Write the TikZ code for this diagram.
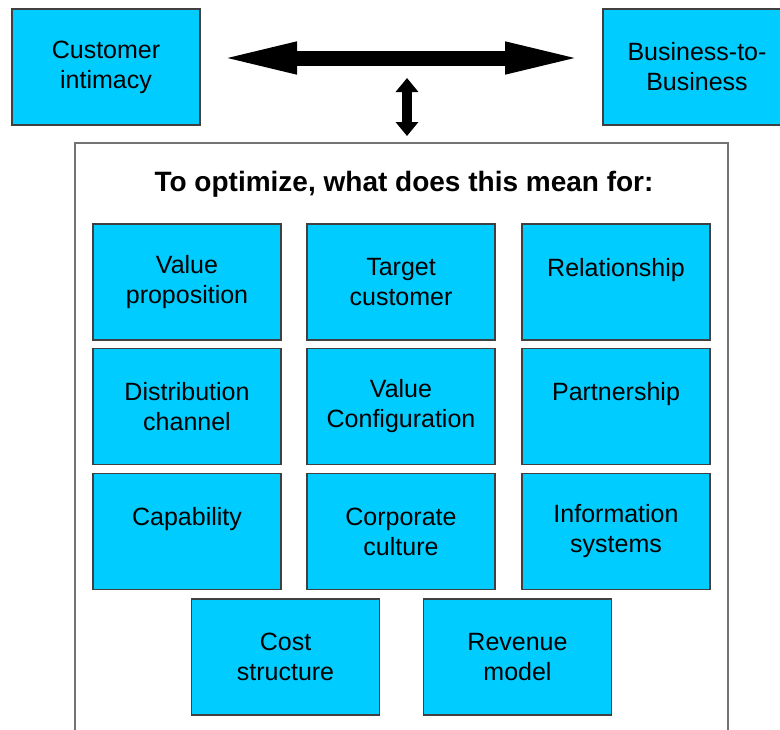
\documentclass[tikz,border=0pt]{standalone}
\usepackage{fontspec}
\setmainfont{Liberation Sans}
\usetikzlibrary{arrows.meta}
\definecolor{boxcyan}{HTML}{00CCFF}
\tikzset{
  cell/.style={draw=black!75, line width=0.6pt, fill=boxcyan,
    minimum width=94pt, minimum height=58pt, inner sep=0pt,
    align=center, font=\fontsize{12.5}{15}\selectfont},
  bigarrow/.style={line width=7.5pt,
    {Triangle[length=41pt,width=14pt]}-{Triangle[length=41pt,width=14pt]}},
  smallarrow/.style={line width=5pt,
    {Triangle[length=7pt,width=11pt]}-{Triangle[length=7pt,width=11pt]}}
}
\begin{document}
\begin{tikzpicture}[x=0.5pt,y=-0.5pt]
\useasboundingbox (0,0) rectangle (780,729);
% top row
\node[cell] (ci) at (106,67) {Customer\\intimacy};
\node[cell] (bb) at (697,67) {Business-to-\\Business};
\coordinate (hl) at (215,58);
\coordinate (hr) at (587,58);
\draw[bigarrow] (hl) -- (hr);
\coordinate (vt) at (407,78);
\coordinate (vb) at (407,136);
\draw[smallarrow] (vt) -- (vb);
% frame
\draw[gray!90!black, line width=0.8pt] (75,740) -- (75,143) -- (728,143) -- (728,740);
\node[font=\fontsize{14}{17}\selectfont\bfseries] (title) at (404,184) {To optimize, what does this mean for:};
% grid
\node[cell] (vp) at (187,282) {Value\\proposition};
\node[cell] (tc) at (401,282) {Target\\customer};
\node[cell] (rel) at (616,282) {Relationship\\\mbox{}};
\node[cell] (dc) at (187,406.5) {Distribution\\channel};
\node[cell] (vc) at (401,406.5) {Value\\Configuration};
\node[cell] (part) at (616,406.5) {Partnership\\\mbox{}};
\node[cell] (cap) at (187,531.5) {Capability\\\mbox{}};
\node[cell] (cc) at (401,531.5) {Corporate\\culture};
\node[cell] (is) at (616,531.5) {Information\\systems};
\node[cell] (cs) at (285.5,657) {Cost\\structure};
\node[cell] (rm) at (517.5,657) {Revenue\\model};
\end{tikzpicture}
\end{document}
